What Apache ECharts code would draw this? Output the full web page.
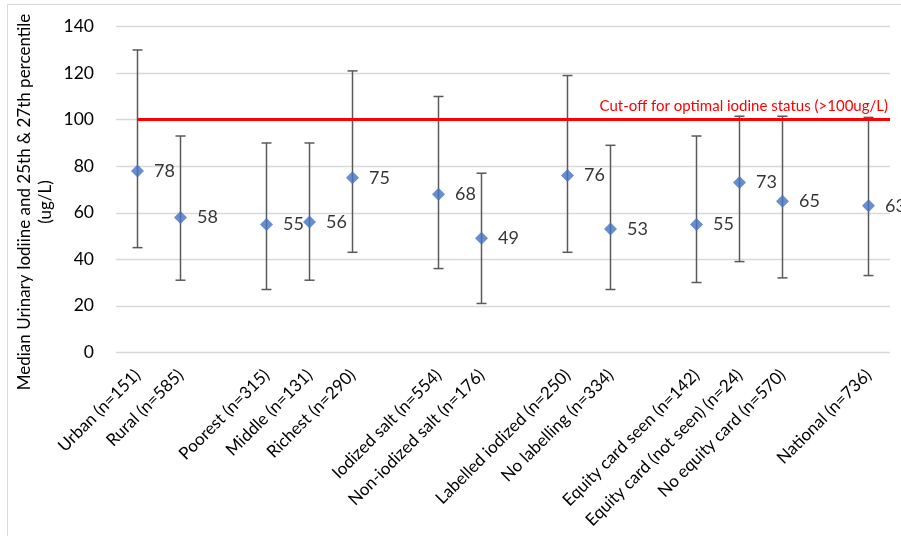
<!DOCTYPE html>
<html><head><meta charset="utf-8">
<script src="https://cdn.jsdelivr.net/npm/echarts@6/dist/echarts.min.js"></script>
<style>html,body{margin:0;padding:0;background:#fff}#c{width:901px;height:536px}</style>
</head><body><div id="c"></div>
<script>
const categories = ['Urban (n=151)','Rural (n=585)','','Poorest (n=315)','Middle (n=131)','Richest (n=290)','','Iodized salt (n=554)','Non-iodized salt (n=176)','','Labelled iodized (n=250)','No labelling (n=334)','','Equity card seen (n=142)','Equity card (not seen) (n=24)','No equity card (n=570)','','National (n=736)'];
const medians = [78,58,null,55,56,75,null,68,49,null,76,53,null,55,73,65,null,63];
const p25 = [45,31,null,27,31,43,null,36,21,null,43,27,null,30,39,32,null,33];
const p75 = [130,93,null,90,90,121,null,110,77,null,119,89,null,93,101.5,101.5,null,101];
const yTicks = {min:0,max:140,interval:20};
const cutoffValue = 100;
const cutoffLabel = 'Cut-off for optimal iodine status (>100ug/L)';
const yAxisTitle = 'Median Urinary Iodiine and 25th & 27th percentile\n(ug/L)';

const FONT = 'Lato';
const chart = echarts.init(document.getElementById('c'));
const errData = categories.map((c,i)=> medians[i]==null ? [i,'-','-'] : [i,p25[i],p75[i]]);
const n = categories.length;
chart.setOption({
  animation:false,
  textStyle:{fontFamily:FONT},
  graphic:[
    {type:'rect',shape:{x:7.5,y:4.5,width:900,height:540},style:{fill:'none',stroke:'#d9d9d9',lineWidth:1},silent:true},
    {type:'text',x:35,y:202,rotation:Math.PI/2,style:{text:yAxisTitle,align:'center',verticalAlign:'middle',
      fontSize:17,lineHeight:21,fontFamily:FONT,fill:'#000'}}
  ],
  grid:{left:116,right:11,top:26.7,bottom:183.7},
  xAxis:[{type:'category',data:categories,boundaryGap:true,
    axisLine:{show:false},axisTick:{show:false},
    axisLabel:{interval:0,rotate:45,fontSize:17,color:'#000',fontFamily:FONT,margin:20}},
    {type:'value',min:0,max:n,show:false}],
  yAxis:{type:'value',min:yTicks.min,max:yTicks.max,interval:yTicks.interval,
    axisLine:{show:false},axisTick:{show:false},
    splitLine:{lineStyle:{color:'#d9d9d9',width:1.3}},
    axisLabel:{fontSize:17.5,color:'#000',fontFamily:FONT,margin:22}},
  series:[
    {type:'line',xAxisIndex:1,data:[],z:1,
      markLine:{silent:true,symbol:['none','none'],animation:false,
        lineStyle:{color:'#ff0000',width:3,type:'solid'},
        label:{show:true,position:'insideEndTop',formatter:cutoffLabel,color:'#ff0000',fontSize:15,fontFamily:FONT,distance:[2,6]},
        data:[[{coord:[0.5,cutoffValue]},{coord:[n,cutoffValue]}]]}},
    {type:'custom',data:errData,z:2,
      renderItem:function(params,api){
        const lo=api.value(1),hi=api.value(2);
        if(isNaN(lo)||isNaN(hi)) return;
        const a=api.coord([api.value(0),lo]);const b=api.coord([api.value(0),hi]);
        const w=5;const st={stroke:'#595959',lineWidth:1.5};
        return {type:'group',children:[
          {type:'line',shape:{x1:a[0],y1:a[1],x2:b[0],y2:b[1]},style:st},
          {type:'line',shape:{x1:a[0]-w,y1:a[1],x2:a[0]+w,y2:a[1]},style:st},
          {type:'line',shape:{x1:b[0]-w,y1:b[1],x2:b[0]+w,y2:b[1]},style:st}]};
      }},
    {type:'scatter',data:medians.map(v=>v==null?'-':v),symbol:'diamond',symbolSize:13,z:3,
      itemStyle:{color:'#4472c4'},
      label:{show:true,position:'right',distance:10,color:'#000',fontSize:18,fontFamily:FONT}}
  ]
});
</script></body></html>
